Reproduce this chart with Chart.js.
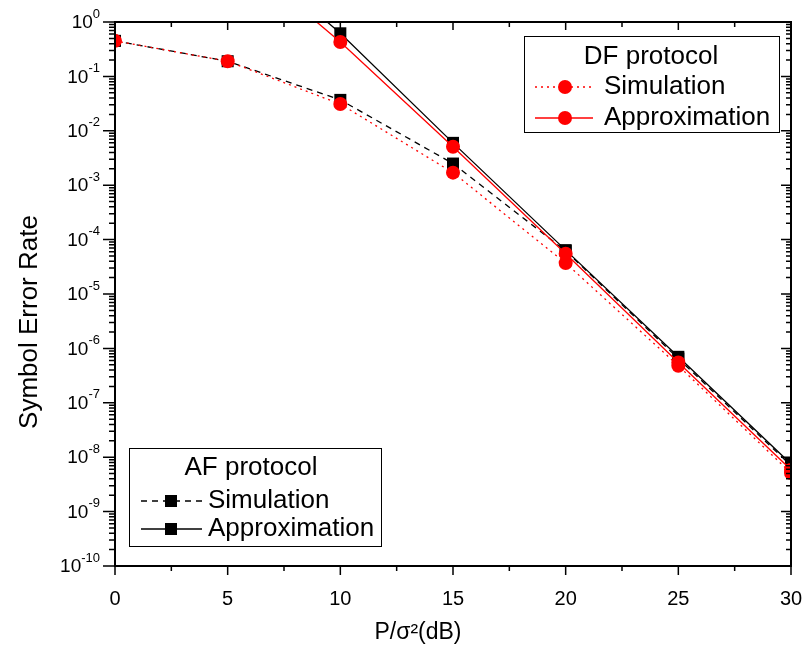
<!DOCTYPE html>
<html>
<head>
<meta charset="utf-8">
<script src="https://cdn.jsdelivr.net/npm/chart.js@4"></script>
<style>
  body { margin: 0; background: #fff; }
</style>
</head>
<body>
<canvas id="serChart" width="804" height="655"></canvas>
<script>
// SNR values (dB) on the x axis
const snrDb = [0, 5, 10, 15, 20, 25, 30];

// Symbol error rate
const afSimulation = [0.45, 0.19, 0.037, 0.0025, 6.2e-5, 6.5e-7, 7e-9];
const afApproximation = [null, 38, 0.62, 0.006, 6.4e-5, 7e-7, 7.5e-9];
const dfSimulation = [0.45, 0.19, 0.031, 0.0017, 3.7e-5, 4.8e-7, 5.1e-9];
const dfApproximation = [null, 24, 0.43, 0.0051, 5.5e-5, 5.5e-7, 5.9e-9];

// Axis ticks
const xTickValues = [0, 5, 10, 15, 20, 25, 30];
const yTickValues = [1e-10, 1e-9, 1e-8, 1e-7, 1e-6, 1e-5, 1e-4, 1e-3, 1e-2, 1e-1, 1];
const yTickExponents = ["-10", "-9", "-8", "-7", "-6", "-5", "-4", "-3", "-2", "-1", "0"];

const FONT = "'Liberation Sans', Arial, sans-serif";

function toPoints(values) {
    return snrDb.map((x, i) => ({ x: x, y: values[i] }));
}

// Draws the box around the plot, all major/minor ticks, y labels, legends and axis titles
const framePlugin = {
    id: "frame",
    afterDraw(chart) {
        const ctx = chart.ctx;
        const area = chart.chartArea;
        const xs = chart.scales.x;
        const ys = chart.scales.y;
        ctx.save();
        ctx.strokeStyle = "#000";

        // ticks
        ctx.lineWidth = 1.5;
        ctx.beginPath();
        for (let v = 0; v <= 30; v += 2.5) {
            const px = xs.getPixelForValue(v);
            const major = v % 5 === 0;
            ctx.moveTo(px, area.bottom);
            ctx.lineTo(px, area.bottom + (major ? 9 : 5));
            ctx.moveTo(px, area.top);
            ctx.lineTo(px, area.top + (major ? 8 : 5));
        }
        yTickValues.forEach((dec, i) => {
            const py = ys.getPixelForValue(dec);
            ctx.moveTo(area.left, py);
            ctx.lineTo(area.left - 12, py);
            ctx.moveTo(area.right, py);
            ctx.lineTo(area.right - 10, py);
            if (i < yTickValues.length - 1) {
                for (let m = 2; m <= 9; m++) {
                    const pm = ys.getPixelForValue(dec * m);
                    ctx.moveTo(area.left, pm);
                    ctx.lineTo(area.left - 6, pm);
                    ctx.moveTo(area.right, pm);
                    ctx.lineTo(area.right - 5, pm);
                }
            }
        });
        ctx.stroke();

        // frame
        ctx.lineWidth = 2;
        ctx.strokeRect(area.left, area.top, area.right - area.left, area.bottom - area.top);

        // y tick labels: "10" with a raised exponent
        ctx.fillStyle = "#000";
        ctx.textBaseline = "middle";
        ctx.textAlign = "left";
        yTickValues.forEach((dec, i) => {
            const py = ys.getPixelForValue(dec);
            ctx.font = "13px " + FONT;
            const expW = ctx.measureText(yTickExponents[i]).width;
            ctx.font = "19px " + FONT;
            const baseW = ctx.measureText("10").width;
            const right = area.left - 15;
            ctx.fillText("10", right - expW - baseW, py + 1);
            ctx.font = "13px " + FONT;
            ctx.fillText(yTickExponents[i], right - expW, py - 8);
        });

        // legends
        drawLegend(ctx, {
            left: 524, top: 36, width: 255, height: 96,
            title: "DF protocol", titleX: 651, titleY: 57,
            textX: 604, lineX0: 535, lineX1: 593, markX: 565,
            rowY: [87, 118], color: "#ff0000", style: "circle",
            dashes: [[2, 4], []]
        });
        drawLegend(ctx, {
            left: 129, top: 448, width: 252, height: 98,
            title: "AF protocol", titleX: 251, titleY: 468,
            textX: 208, lineX0: 141, lineX1: 202, markX: 171,
            rowY: [501, 529], color: "#000000", style: "rect",
            dashes: [[6, 5], []]
        });

        // axis titles
        ctx.fillStyle = "#000";
        ctx.font = "23px " + FONT;
        ctx.textAlign = "center";
        ctx.textBaseline = "middle";
        ctx.fillText("P/σ²(dB)", 418, 633);
        ctx.save();
        ctx.translate(30, 322);
        ctx.rotate(-Math.PI / 2);
        ctx.font = "26px " + FONT;
        ctx.fillText("Symbol Error Rate", 0, 0);
        ctx.restore();

        ctx.restore();
    }
};

function drawMarker(ctx, style, x, y, color) {
    ctx.fillStyle = color;
    if (style === "circle") {
        ctx.beginPath();
        ctx.arc(x, y, 7, 0, Math.PI * 2);
        ctx.fill();
    } else {
        ctx.fillRect(x - 6, y - 6, 12, 12);
    }
}

function drawLegend(ctx, o) {
    ctx.save();
    ctx.fillStyle = "#fff";
    ctx.fillRect(o.left, o.top, o.width, o.height);
    ctx.lineWidth = 1;
    ctx.strokeStyle = "#000";
    ctx.strokeRect(o.left + 0.5, o.top + 0.5, o.width, o.height);

    ctx.fillStyle = "#000";
    ctx.font = "26px " + FONT;
    ctx.textBaseline = "middle";
    ctx.textAlign = "center";
    ctx.fillText(o.title, o.titleX, o.titleY);
    ctx.textAlign = "left";
    const names = ["Simulation", "Approximation"];
    names.forEach((name, i) => {
        const y = o.rowY[i];
        ctx.strokeStyle = o.color;
        ctx.lineWidth = 1.3;
        ctx.setLineDash(o.dashes[i]);
        ctx.beginPath();
        ctx.moveTo(o.lineX0, y);
        ctx.lineTo(o.lineX1, y);
        ctx.stroke();
        ctx.setLineDash([]);
        drawMarker(ctx, o.style, o.markX, y, o.color);
        ctx.fillStyle = "#000";
        ctx.fillText(name, o.textX, y);
    });
    ctx.restore();
}

const ctx = document.getElementById("serChart").getContext("2d");

new Chart(ctx, {
    type: "line",
    data: {
        datasets: [
            {
                label: "DF Simulation",
                data: toPoints(dfSimulation),
                borderColor: "#ff0000",
                backgroundColor: "#ff0000",
                borderWidth: 1.3,
                borderDash: [2, 4],
                pointStyle: "circle",
                pointRadius: 7,
                pointBorderWidth: 0,
                order: 0
            },
            {
                label: "DF Approximation",
                data: toPoints(dfApproximation),
                borderColor: "#ff0000",
                backgroundColor: "#ff0000",
                borderWidth: 1.3,
                pointStyle: "circle",
                pointRadius: 7,
                pointBorderWidth: 0,
                order: 1
            },
            {
                label: "AF Simulation",
                data: toPoints(afSimulation),
                borderColor: "#000000",
                backgroundColor: "#000000",
                borderWidth: 1.3,
                borderDash: [6, 5],
                pointStyle: "rect",
                pointRadius: 8.5,
                pointBorderWidth: 0,
                order: 2
            },
            {
                label: "AF Approximation",
                data: toPoints(afApproximation),
                borderColor: "#000000",
                backgroundColor: "#000000",
                borderWidth: 1.3,
                pointStyle: "rect",
                pointRadius: 8.5,
                pointBorderWidth: 0,
                order: 3
            }
        ]
    },
    options: {
        responsive: false,
        animation: false,
        layout: { padding: { left: 0, top: 22, right: 13, bottom: 0 } },
        plugins: {
            legend: { display: false },
            tooltip: { enabled: false }
        },
        scales: {
            x: {
                type: "linear",
                min: 0,
                max: 30,
                grid: { display: false },
                border: { display: false },
                afterBuildTicks: (axis) => {
                    axis.ticks = xTickValues.map(v => ({ value: v }));
                },
                afterFit: (scale) => {
                    scale.height = 89;
                    scale.paddingLeft = 0;
                    scale.paddingRight = 0;
                },
                ticks: {
                    color: "#000",
                    padding: 13,
                    maxRotation: 0,
                    font: { family: FONT, size: 20 }
                }
            },
            y: {
                type: "logarithmic",
                min: 1e-10,
                max: 1,
                grid: { display: false },
                border: { display: false },
                afterBuildTicks: (axis) => {
                    axis.ticks = yTickValues.map(v => ({ value: v }));
                },
                afterFit: (scale) => {
                    scale.width = 115;
                    scale.paddingTop = 0;
                    scale.paddingBottom = 0;
                },
                ticks: { display: false }
            }
        }
    },
    plugins: [framePlugin]
});
</script>
</body>
</html>
